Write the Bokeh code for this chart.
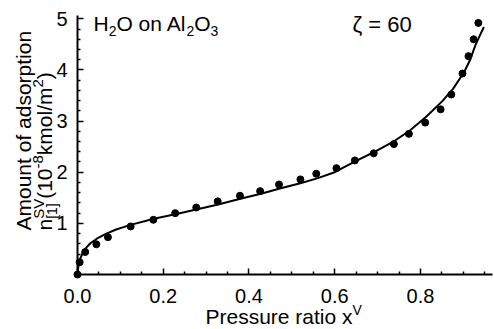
import math
from bokeh.plotting import figure
from bokeh.models import Label, FixedTicker, NumeralTickFormatter, Range1d
from bokeh.embed import file_html
from bokeh.resources import INLINE

# ---- data ----
curve_x = [0.000, 0.002, 0.006, 0.012, 0.020, 0.030, 0.045, 0.065, 0.090, 0.124,
           0.178, 0.228, 0.272, 0.328, 0.380, 0.428, 0.472, 0.522, 0.559, 0.600,
           0.650, 0.693, 0.741, 0.776, 0.814, 0.851, 0.876, 0.902, 0.916, 0.928,
           0.940, 0.948]
curve_y = [0.00, 0.16, 0.30, 0.42, 0.52, 0.61, 0.70, 0.79, 0.88, 0.97,
           1.09, 1.18, 1.26, 1.37, 1.48, 1.58, 1.68, 1.79, 1.88, 2.00,
           2.22, 2.40, 2.62, 2.82, 3.09, 3.39, 3.63, 3.96, 4.20, 4.48,
           4.70, 4.84]
data_x = [0.000, 0.005, 0.018, 0.044, 0.071, 0.124, 0.177, 0.228, 0.277, 0.327,
          0.379, 0.426, 0.470, 0.520, 0.557, 0.604, 0.647, 0.691, 0.738, 0.773,
          0.811, 0.847, 0.872, 0.898, 0.912, 0.924, 0.935]
data_y = [0.00, 0.24, 0.44, 0.59, 0.73, 0.94, 1.07, 1.20, 1.31, 1.43,
          1.54, 1.63, 1.76, 1.86, 1.97, 2.08, 2.23, 2.37, 2.55, 2.75,
          2.97, 3.23, 3.52, 3.93, 4.27, 4.60, 4.92]
x_ticks = [0.0, 0.2, 0.4, 0.6, 0.8]
x_minor = [0.05, 0.10, 0.15, 0.25, 0.30, 0.35, 0.45, 0.50, 0.55, 0.65, 0.70,
           0.75, 0.85, 0.90, 0.95]
y_ticks = [1, 2, 3, 4, 5]
y_minor = [0.2, 0.4, 0.6, 0.8, 1.2, 1.4, 1.6, 1.8, 2.2, 2.4, 2.6, 2.8,
           3.2, 3.4, 3.6, 3.8, 4.2, 4.4, 4.6, 4.8]
x_end, y_end = 0.968, 5.065   # extent of the drawn axes

# ---- layout: frame covers the canvas, axes are pinned at the data origin ----
W, H = 494, 329
OX, OY = 77, 274          # canvas pixel of the data origin
SX, SY = 428.7, 51.14     # pixels per data unit

p = figure(width=W, height=H,
           x_range=Range1d(-OX / SX, (W - OX) / SX),
           y_range=Range1d(-(H - OY) / SY, OY / SY),
           output_backend="svg", toolbar_location=None,
           min_border_left=0, min_border_right=0,
           min_border_top=0, min_border_bottom=0)
p.outline_line_color = None
p.grid.visible = False
p.background_fill_color = "white"
p.border_fill_color = "white"
FONT = "Liberation Sans"

for ax, ticks, minor, bnd in ((p.xaxis[0], x_ticks, x_minor, (0, x_end)),
                              (p.yaxis[0], y_ticks, y_minor, (0, y_end))):
    ax.fixed_location = 0
    ax.bounds = bnd
    ax.ticker = FixedTicker(ticks=ticks, minor_ticks=minor)
    ax.axis_line_width = 2
    ax.axis_line_color = "black"
    ax.major_tick_in = 6
    ax.major_tick_out = 0
    ax.minor_tick_in = 3
    ax.minor_tick_out = 0
    ax.major_tick_line_width = 1.5
    ax.minor_tick_line_width = 1.5
    ax.major_label_text_font = FONT
    ax.major_label_text_font_size = "20px"
    ax.major_label_text_color = "black"
p.xaxis[0].major_label_standoff = 14
p.yaxis[0].major_label_standoff = 10
p.xaxis[0].formatter = NumeralTickFormatter(format="0.0")

p.line(curve_x, curve_y, line_width=2, color="black")
p.scatter(data_x, data_y, size=7, color="black")

# ---- rich text helpers (canvas pixel positions) ----
CW = {'A': 667, 'm': 833, 'o': 556, 'u': 556, 'n': 556, 't': 278, ' ': 278, 'f': 278,
      'a': 556, 'd': 556, 's': 500, 'r': 333, 'p': 556, 'i': 222, 'S': 667, 'V': 667,
      '[': 278, ']': 278, '1': 556, '(': 333, '0': 556, '-': 333, '8': 556, 'k': 500,
      'l': 222, '/': 278, ')': 333, '2': 556, 'P': 667, 'e': 556, 'x': 500, 'H': 722,
      'O': 778, '3': 556, '=': 584, '6': 556}
BASE_FIX = 0.36   # renderer places the alphabetic baseline ~0.36 em low


def tw(s, size):
    return sum(CW.get(c, 556) for c in s) / 1000.0 * size


def px2x(px):
    return (px - OX) / SX


def py2y(py):
    return (OY - py) / SY


def rich(parts, start, base, vertical=False):
    cur = start
    for text, size, shift, adv in parts:
        b = base - shift - BASE_FIX * size
        if vertical:
            lab = Label(x=px2x(b), y=py2y(cur), text=text, angle=math.pi / 2)
        else:
            lab = Label(x=px2x(cur), y=py2y(b), text=text)
        lab.text_font = FONT
        lab.text_font_size = f"{size}px"
        lab.text_color = "black"
        lab.text_align = "left"
        lab.text_baseline = "alphabetic"
        p.add_layout(lab)
        if adv:
            cur = cur - tw(text, size) if vertical else cur + tw(text, size)


rich([("H", 21, 0, True), ("2", 14, -5, True), ("O on Al", 21, 0, True),
      ("2", 14, -5, True), ("O", 21, 0, True), ("3", 14, -5, True)], 93, 31)
rich([("\u03b6 = 60", 22, 0, True)], 352, 32)
rich([("Pressure ratio x", 21, 0, True), ("V", 14, 9, True)], 205, 324)
rich([("Amount of adsorption", 21, 0, True)], 230, 31, vertical=True)
rich([("n", 21, 0, True)], 230, 52, vertical=True)
rich([("[1]", 14, -5, True)], 230 - tw("n", 21), 52, vertical=True)
rich([("SV", 15, 9, True), ("(10", 21, 0, True), ("-8", 15, 9, True),
      ("kmol/m", 21, 0, True), ("2", 15, 9, True), (")", 21, 0, True)],
     230 - tw("n", 21), 52, vertical=True)

open("out.html", "w").write(file_html(p, INLINE))
